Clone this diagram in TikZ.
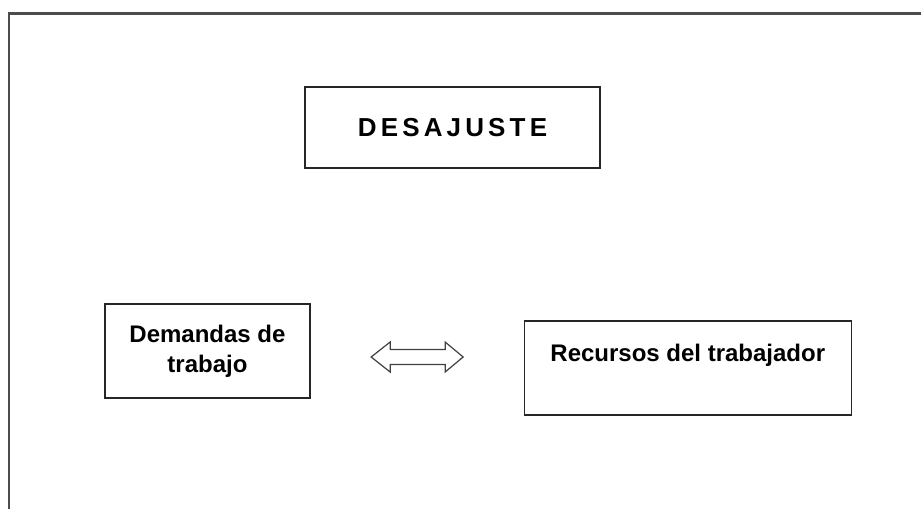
\documentclass[tikz,border=0pt]{standalone}
\usepackage{fontspec}
\setmainfont{Liberation Sans}
\newfontfamily\spacedfont[LetterSpace=16]{Liberation Sans}
\usetikzlibrary{
  calc,            % midpoint between the boxes
  positioning      % positions like right of node
}
\tikzset{
  x=1pt, y=-1pt,
  frame/.style = {draw=black!70, line width=2.6pt},
  box/.style = {
    rectangle,
    draw=black!85,
    line width=1.3pt,
    align=center,
    inner sep=0pt,
    font=\fontsize{24}{30}\selectfont\bfseries
  },
  linkarrow/.style = {draw=black!75, line width=1.2pt, fill=white}
}

\begin{document}
\begin{tikzpicture}

  \useasboundingbox (0,0) rectangle (921,509);

  %% frame
  \draw[frame] (9,509) -- (9,13.5) -- (921,13.5);

  %% nodes
  \node[box, minimum width=295pt, minimum height=81pt] (DE) at (452.5,127.5)
    {\fontsize{26}{30}\selectfont\spacedfont DESAJUSTE};

  \node[box, minimum width=205pt, minimum height=94pt] (DT) at (207.5,351)
    {Demandas de\\trabajo};

  \node[box, minimum width=327pt, minimum height=94pt] (RT) [right=213pt of DT, yshift=-17pt]
    {Recursos del trabajador\\~};

  %% arrows
  \coordinate (MID) at ($(DT.east)!0.5!(RT.west)$);
  \draw[linkarrow] (MID) ++(-46,-2.5)
    -- ++(19,-15) -- ++(0,7.5) -- ++(55,0) -- ++(0,-7.5)
    -- ++(18,15) -- ++(-18,15) -- ++(0,-7.5) -- ++(-55,0) -- ++(0,7.5) -- cycle;

\end{tikzpicture}
\end{document}
